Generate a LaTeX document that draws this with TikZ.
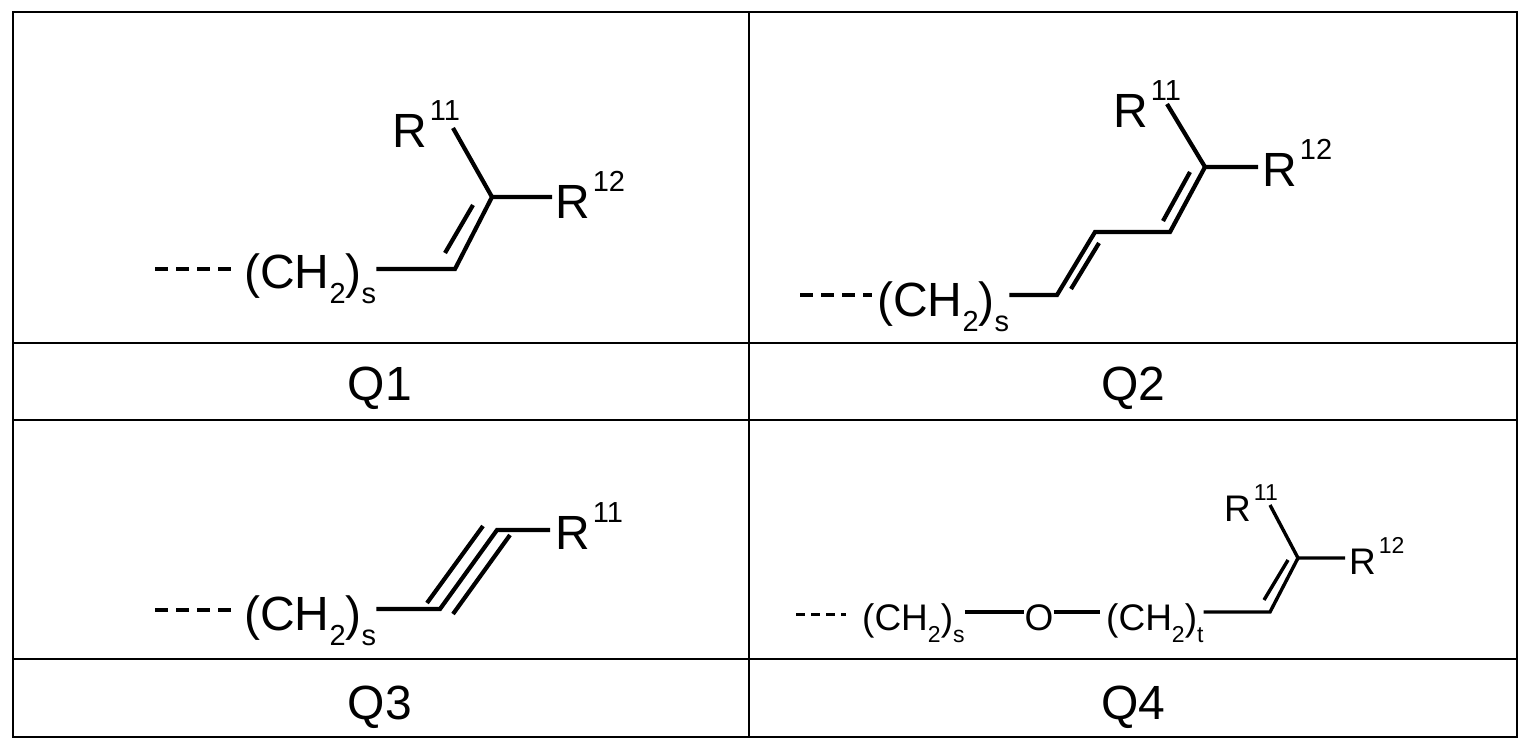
\documentclass[tikz,border=0pt]{standalone}
\usepackage{fontspec}
\setmainfont{Liberation Sans}
\newcommand\bigf{\fontsize{48}{52}\selectfont}
\newcommand\smf{\fontsize{37}{40}\selectfont}
\newcommand\dn[3]{\raisebox{-#1pt}{\fontsize{#2}{#2}\selectfont #3}}
\newcommand\up[3]{\kern3pt\raisebox{#1pt}{\fontsize{#2}{#2}\selectfont #3}}
\begin{document}
\begin{tikzpicture}[x=1pt,y=-1pt,
  lbl/.style={inner sep=0pt,anchor=base west,font=\bigf},
  lbs/.style={inner sep=0pt,anchor=base west,font=\smf},
  bond/.style={line width=4.2pt},
  grid/.style={line width=2.8pt},
  dsh/.style={line width=3.6pt,dash pattern=on 13pt off 8pt}]
\useasboundingbox (0,0) rectangle (1530,749);
% table
\draw[grid] (13,12) rectangle (1517,737);
\draw[grid] (749,12) -- (749,737);
\draw[grid] (13,343) -- (1517,343);
\draw[grid] (13,420) -- (1517,420);
\draw[grid] (13,659) -- (1517,659);
\node[inner sep=0,anchor=base,font=\bigf] (q1) at (380,400) {Q1};
\node[inner sep=0,anchor=base,font=\bigf] (q2) at (1133,400) {Q2};
\node[inner sep=0,anchor=base,font=\bigf] (q3) at (380,719) {Q3};
\node[inner sep=0,anchor=base,font=\bigf] (q4) at (1133,719) {Q4};
% Q1
\node[lbl] (c1) at (244,288) {(CH\dn{15}{29}{2})\dn{15}{29}{s}};
\coordinate (d1) at (155,269);
\coordinate (a1) at (455,269);
\coordinate (b1) at (492,197);
\node[lbl] (r11a) at (392,147) {R\up{27}{29}{11}};
\node[lbl] (r12a) at (555,218) {R\up{27}{29}{12}};
\draw[dsh] (d1) -- (232,269);
\draw[bond] (c1.base east |- a1) -- (a1) -- (b1) -- (552,197);
\draw[bond] (b1) -- (453,128);
\draw[bond] (445,253) -- (473,205);
% Q2
\node[lbl] (c2) at (877,316) {(CH\dn{15}{29}{2})\dn{15}{29}{s}};
\node[lbl] (r11b) at (1113,128) {R\up{27}{29}{11}};
\node[lbl] (r12b) at (1262,186) {R\up{27}{29}{12}};
\draw[dsh] (800,295) -- (872,295);
\coordinate (e1) at (1057,295);
\coordinate (e2) at (1095,232);
\coordinate (e3) at (1170,232);
\coordinate (e4) at (1205,167);
\draw[bond] (c2.base east |- e1) -- (e1) -- (e2) -- (e3) -- (e4) -- (1258,167);
\draw[bond] (e4) -- (1167,104);
\draw[bond] (1071,289) -- (1099,243);
\draw[bond] (1163,221) -- (1190,172);
% Q3
\node[lbl] (c3) at (244,630) {(CH\dn{15}{29}{2})\dn{15}{29}{s}};
\node[lbl] (r11c) at (555,549) {R\up{27}{29}{11}};
\draw[dsh] (155,610) -- (232,610);
\coordinate (t1) at (440,609);
\coordinate (t2) at (497,530);
\draw[bond] (c3.base east |- t1) -- (t1) -- (t2) -- (550,530);
\draw[bond] (427,603) -- (483,526);
\draw[bond] (453,614) -- (510,535);
% Q4
\node[lbs] (c4) at (862,630) {(CH\dn{12}{23}{2})\dn{12}{23}{s}};
\node[inner sep=0,anchor=base,font=\smf] (o4) at (1039,630) {O};
\node[lbs] (c5) at (1106,630) {(CH\dn{12}{23}{2})\dn{12}{23}{t}};
\node[lbs] (r11d) at (1224,521) {R\up{21}{23}{11}};
\node[lbs] (r12d) at (1349,574) {R\up{21}{23}{12}};
\draw[dsh,line width=3pt,dash pattern=on 9pt off 6pt] (796,614) -- (846,614);
\coordinate (f1) at (1270,612);
\coordinate (f2) at (1298,558);
\draw[bond,line width=3.4pt] (c4.base east |- f1) -- (o4.west |- f1);
\draw[bond,line width=3.4pt] (o4.east |- f1) -- (1100,612);
\draw[bond,line width=3.4pt] (c5.base east |- f1) -- (f1) -- (f2) -- (1345,558);
\draw[bond,line width=3.4pt] (f2) -- (1270,505);
\draw[bond,line width=3.4pt] (1264,600) -- (1288,560);
\end{tikzpicture}
\end{document}
